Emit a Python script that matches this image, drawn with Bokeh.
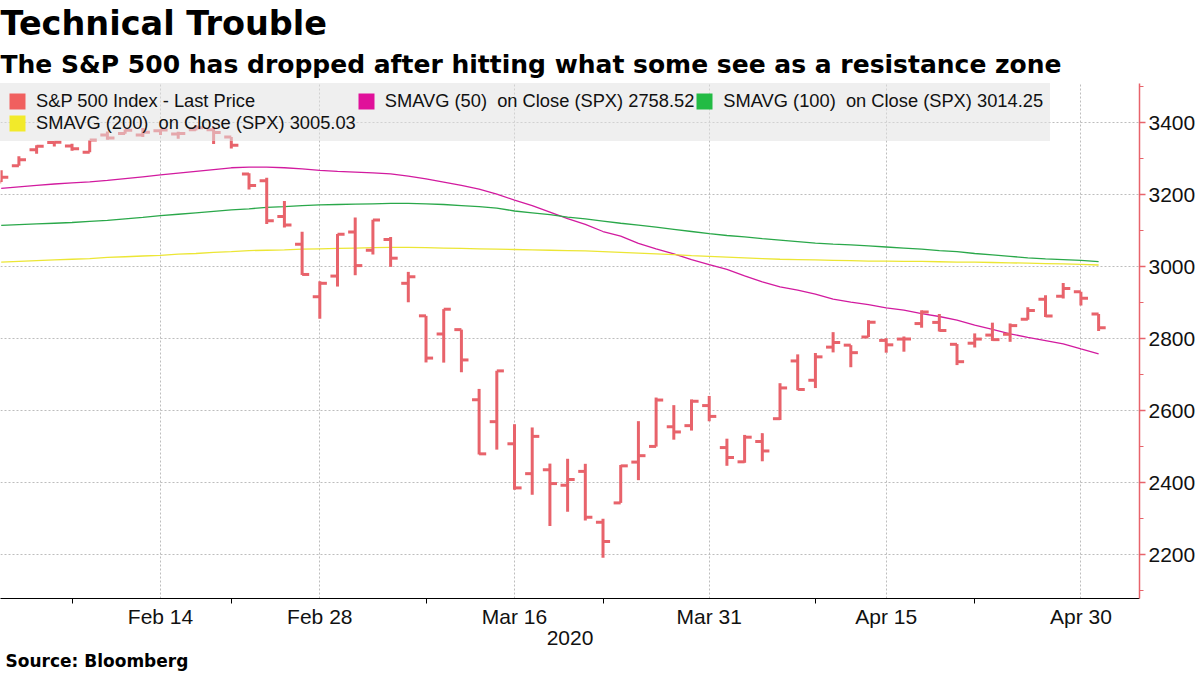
import numpy as np
from bokeh.plotting import figure
from bokeh.models import (Range1d, FixedTicker, Legend, LegendItem, Title, ColumnDataSource)
from bokeh.embed import file_html
from bokeh.resources import INLINE

# ---------------- data ----------------
dates = [
    "2020-02-03", "2020-02-04", "2020-02-05", "2020-02-06", "2020-02-07",
    "2020-02-10", "2020-02-11", "2020-02-12", "2020-02-13", "2020-02-14",
    "2020-02-18", "2020-02-19", "2020-02-20", "2020-02-21",
    "2020-02-24", "2020-02-25", "2020-02-26", "2020-02-27", "2020-02-28",
    "2020-03-02", "2020-03-03", "2020-03-04", "2020-03-05", "2020-03-06",
    "2020-03-09", "2020-03-10", "2020-03-11", "2020-03-12", "2020-03-13",
    "2020-03-16", "2020-03-17", "2020-03-18", "2020-03-19", "2020-03-20",
    "2020-03-23", "2020-03-24", "2020-03-25", "2020-03-26", "2020-03-27",
    "2020-03-30", "2020-03-31", "2020-04-01", "2020-04-02", "2020-04-03",
    "2020-04-06", "2020-04-07", "2020-04-08", "2020-04-09",
    "2020-04-13", "2020-04-14", "2020-04-15", "2020-04-16", "2020-04-17",
    "2020-04-20", "2020-04-21", "2020-04-22", "2020-04-23", "2020-04-24",
    "2020-04-27", "2020-04-28", "2020-04-29", "2020-04-30", "2020-05-01",
]
open_ = [
    3235.66, 3280.61, 3324.91, 3344.92, 3335.54,
    3318.28, 3365.87, 3370.50, 3365.90, 3378.08,
    3369.04, 3380.39, 3380.45, 3360.50,
    3257.61, 3238.94, 3139.90, 3062.54, 2916.90,
    2974.28, 3096.46, 3045.75, 3075.70, 2954.20,
    2863.89, 2813.48, 2825.60, 2630.86, 2569.99,
    2508.59, 2425.66, 2436.50, 2393.48, 2431.94,
    2290.71, 2344.44, 2457.77, 2501.29, 2555.87,
    2558.98, 2614.69, 2498.08, 2458.54, 2514.92,
    2578.28, 2738.65, 2685.00, 2776.99,
    2782.46, 2805.10, 2795.64, 2799.34, 2842.43,
    2845.62, 2784.81, 2787.89, 2810.42, 2812.64,
    2854.65, 2909.96, 2918.46, 2930.91, 2869.09,
]
high = [
    3268.44, 3306.92, 3337.58, 3347.96, 3341.42,
    3352.26, 3375.63, 3381.47, 3385.09, 3380.69,
    3375.01, 3393.52, 3389.15, 3360.76,
    3259.81, 3246.99, 3182.51, 3097.07, 2959.72,
    3090.96, 3136.72, 3130.97, 3083.04, 2985.93,
    2863.89, 2882.59, 2825.60, 2660.95, 2711.33,
    2562.98, 2553.93, 2453.57, 2466.97, 2453.01,
    2300.73, 2449.71, 2571.42, 2637.01, 2615.91,
    2631.80, 2641.39, 2522.75, 2533.22, 2538.18,
    2676.85, 2756.89, 2760.75, 2818.57,
    2782.46, 2851.85, 2801.88, 2806.51, 2879.22,
    2868.98, 2785.54, 2815.10, 2844.90, 2842.71,
    2887.72, 2921.15, 2954.86, 2930.91, 2869.09,
]
low = [
    3235.66, 3280.61, 3313.75, 3334.39, 3322.12,
    3317.77, 3352.72, 3369.72, 3360.52, 3366.15,
    3355.61, 3378.83, 3341.02, 3328.45,
    3214.65, 3118.77, 3108.99, 2977.39, 2855.84,
    2945.19, 2976.63, 3034.38, 2999.83, 2901.54,
    2734.43, 2734.00, 2707.22, 2478.86, 2492.37,
    2380.94, 2367.04, 2280.52, 2319.78, 2295.56,
    2191.86, 2344.44, 2407.53, 2500.72, 2520.02,
    2545.28, 2571.15, 2447.49, 2455.79, 2459.96,
    2574.57, 2657.67, 2663.30, 2762.36,
    2721.17, 2805.10, 2761.54, 2764.32, 2830.88,
    2820.43, 2727.10, 2775.95, 2794.26, 2791.76,
    2852.89, 2860.71, 2912.16, 2892.47, 2821.61,
]
close = [
    3248.92, 3297.59, 3334.69, 3345.78, 3327.71,
    3352.09, 3357.75, 3379.45, 3373.94, 3380.16,
    3370.29, 3386.15, 3373.23, 3337.75,
    3225.89, 3128.21, 3116.39, 2978.76, 2954.22,
    3090.23, 3003.37, 3130.12, 3023.94, 2972.37,
    2746.56, 2882.23, 2741.38, 2480.64, 2711.02,
    2386.13, 2529.19, 2398.10, 2409.39, 2304.92,
    2237.40, 2447.33, 2475.56, 2630.07, 2541.47,
    2626.65, 2584.59, 2470.50, 2526.90, 2488.65,
    2663.68, 2659.41, 2749.98, 2789.82,
    2761.63, 2846.06, 2783.36, 2799.55, 2874.56,
    2823.16, 2736.56, 2799.31, 2797.80, 2836.74,
    2878.48, 2863.39, 2939.51, 2912.43, 2830.71,
]
sma50 = [
    3218, 3222, 3226, 3230, 3233, 3236, 3240, 3245, 3250, 3255,
    3260, 3265, 3270, 3275, 3277, 3277, 3275, 3272, 3268, 3265,
    3263, 3261, 3258, 3252, 3244, 3235, 3226, 3216, 3202, 3185,
    3170, 3152, 3134, 3118, 3098, 3085, 3065, 3050, 3036, 3020,
    3006, 2993, 2975, 2958, 2944, 2935, 2924, 2910, 2902, 2895,
    2886, 2880, 2870, 2862, 2852, 2838, 2826, 2814, 2804, 2795,
    2786, 2772, 2758.52,
]
sma100 = [
    3115, 3117, 3119, 3121, 3123, 3126, 3129, 3133, 3137, 3142,
    3146, 3150, 3154, 3158, 3161, 3165, 3167, 3170, 3172, 3173,
    3174, 3175, 3176, 3176, 3175, 3173, 3170, 3167, 3163, 3155,
    3150, 3145, 3138, 3133, 3127, 3121, 3116, 3110, 3104, 3098,
    3092, 3087, 3083, 3078, 3074, 3070, 3066, 3063, 3061, 3058,
    3055, 3052, 3049, 3045, 3042, 3037, 3033, 3029, 3025, 3022,
    3020, 3018, 3014.25,
]
sma200 = [
    3013, 3015, 3017, 3019, 3021, 3023, 3026, 3028, 3030, 3032,
    3035, 3037, 3040, 3042, 3045, 3046, 3047, 3049, 3050, 3051,
    3052, 3053, 3054, 3054, 3053, 3052, 3051, 3050, 3049, 3048,
    3047, 3046, 3045, 3044, 3042, 3040, 3038, 3036, 3034, 3031,
    3029, 3027, 3025, 3023, 3021, 3020, 3019, 3018, 3017, 3016,
    3016, 3015, 3015, 3014, 3013, 3013, 3012, 3011, 3010, 3009,
    3008, 3007, 3005.03,
]
tick_dates = ["2020-02-14", "2020-02-28", "2020-03-16", "2020-03-31", "2020-04-15", "2020-04-30"]
tick_labels = ["Feb 14", "Feb 28", "Mar 16", "Mar 31", "Apr 15", "Apr 30"]
minor_tick_dates = ["2020-02-07", "2020-02-21", "2020-03-09", "2020-03-23", "2020-04-08", "2020-04-22"]
y_ticks = [2200, 2400, 2600, 2800, 3000, 3200, 3400]
y_minor_ticks = [2100, 2300, 2500, 2700, 2900, 3100, 3300, 3500]
legend_labels = [
    "S&P 500 Index - Last Price",
    "SMAVG (50)  on Close (SPX) 2758.52",
    "SMAVG (100)  on Close (SPX) 3014.25",
    "SMAVG (200)  on Close (SPX) 3005.03",
]
x_axis_label = "2020"
title_text = "Technical Trouble"
subtitle_text = "The S&P 500 has dropped after hitting what some see as a resistance zone"
source_text = "Source: Bloomberg"

# ---------------- styles ----------------
BAR = "#e8636b"
C50 = "#d21b9f"
C100 = "#2aa84a"
C200 = "#ece635"
SQ_BAR = "#f0605f"
SQ50 = "#e0109a"
SQ100 = "#22bb44"
SQ200 = "#f2ea2a"
AXIS_FONT = "Liberation Sans"
TITLE_FONT = "DejaVu Sans"
TICK_HALF = 0.4

idx = np.arange(len(dates))
pos = {d: i for i, d in enumerate(dates)}
src = ColumnDataSource(dict(
    x=idx, xo=idx - TICK_HALF, xc=idx + TICK_HALF,
    open=open_, high=high, low=low, close=close,
    sma50=sma50, sma100=sma100, sma200=sma200,
))

p = figure(width=1200, height=675, output_backend="svg", toolbar_location=None,
           x_range=Range1d(-0.04, 64.31), y_range=Range1d(2079, 3509),
           y_axis_location="right",
           min_border_left=0, min_border_right=61, min_border_top=83, min_border_bottom=77)
p.outline_line_color = None
p.background_fill_color = "white"
p.border_fill_color = "white"

# SMA lines
r50 = p.line("x", "sma50", source=src, line_color=C50, line_width=1.3)
r100 = p.line("x", "sma100", source=src, line_color=C100, line_width=1.3)
r200 = p.line("x", "sma200", source=src, line_color=C200, line_width=1.3)

# OHLC bars
p.segment(x0="x", y0="low", x1="x", y1="high", source=src, line_color=BAR, line_width=3, line_cap="butt")
p.segment(x0="xo", y0="open", x1="x", y1="open", source=src, line_color=BAR, line_width=3, line_cap="butt")
p.segment(x0="x", y0="close", x1="xc", y1="close", source=src, line_color=BAR, line_width=3, line_cap="butt")

# legend swatches (invisible NaN glyphs that only provide the coloured squares)
nan = float("nan")
sw = []
for c in (SQ_BAR, SQ50, SQ100, SQ200):
    sw.append(p.quad(source=ColumnDataSource(dict(left=[nan], right=[nan], top=[nan], bottom=[nan])),
                     left="left", right="right", top="top", bottom="bottom",
                     fill_color=c, line_color=None))
legend = Legend(items=[LegendItem(label=l, renderers=[r]) for l, r in zip(legend_labels, sw)],
                location="top_left", orientation="horizontal", ncols=3,
                padding=7, margin=0, spacing=0,
                glyph_width=20, glyph_height=20, label_height=20, label_standoff=9,
                label_text_font=AXIS_FONT, label_text_font_size="18.3px", label_text_color="#111111",
                background_fill_color="#e2e2e2", background_fill_alpha=0.55,
                border_line_color="#e2e2e2", border_line_alpha=0.0)
p.add_layout(legend, "center")

# x axis
xt = FixedTicker(ticks=[pos[d] for d in tick_dates], minor_ticks=[pos[d] for d in minor_tick_dates])
xa = p.xaxis[0]
xa.ticker = xt
xa.major_label_overrides = {pos[d]: l for d, l in zip(tick_dates, tick_labels)}
xa.axis_line_color = "black"
xa.axis_line_width = 1.2
xa.major_tick_line_color = "black"
xa.major_tick_out = 0
xa.major_tick_in = 0
xa.minor_tick_line_color = "black"
xa.minor_tick_out = 5
xa.minor_tick_in = 0
xa.major_label_standoff = 1
xa.major_label_text_font = AXIS_FONT
xa.major_label_text_font_size = "21px"
xa.major_label_text_color = "#111111"
xa.axis_label = x_axis_label
xa.axis_label_text_font = AXIS_FONT
xa.axis_label_text_font_size = "21px"
xa.axis_label_text_font_style = "normal"
xa.axis_label_text_color = "#111111"
xa.axis_label_standoff = 0

# y axis (right)
yt = FixedTicker(ticks=y_ticks, minor_ticks=y_minor_ticks)
ya = p.yaxis[0]
ya.ticker = yt
ya.axis_line_color = BAR
ya.axis_line_width = 1.5
ya.major_tick_line_color = BAR
ya.major_tick_line_width = 1.5
ya.major_tick_out = 6
ya.major_tick_in = 0
ya.minor_tick_line_color = BAR
ya.minor_tick_out = 4
ya.minor_tick_in = 0
ya.major_label_standoff = 3
ya.major_label_text_font = AXIS_FONT
ya.major_label_text_font_size = "21px"
ya.major_label_text_color = "#111111"

# grids
for g, t in ((p.xgrid[0], xt), (p.ygrid[0], yt)):
    g.ticker = t
    g.grid_line_color = "#bdbdbd"
    g.grid_line_dash = "2 2"
    g.grid_line_width = 1

# titles (the title added last sits nearest to the plot)
p.title.text = title_text
p.title.text_font = TITLE_FONT
p.title.text_font_size = "33.5px"
p.title.text_font_style = "bold"
p.title.text_color = "black"
p.title.align = "left"
p.title.offset = 0
p.title.standoff = 0
p.add_layout(Title(text=subtitle_text, text_font=TITLE_FONT, text_font_size="25px",
                   text_font_style="bold", text_color="black", align="left", offset=0,
                   standoff=10), "above")
p.add_layout(Title(text=source_text, text_font=TITLE_FONT, text_font_size="17px",
                   text_font_style="bold", text_color="black", align="left", offset=5,
                   standoff=2), "below")

open("out.html", "w").write(file_html(p, INLINE))
